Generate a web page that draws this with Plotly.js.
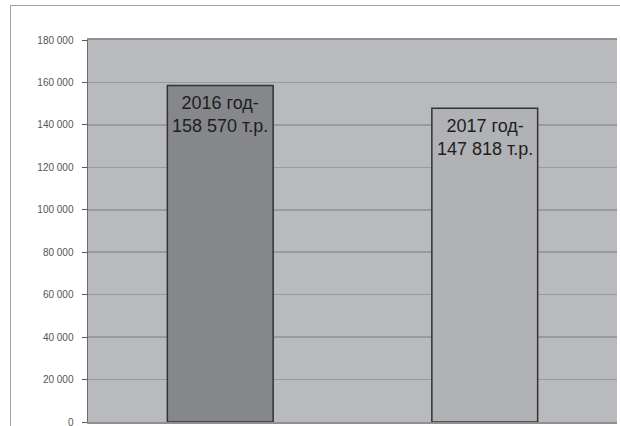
<!DOCTYPE html>
<html><head><meta charset="utf-8">
<script src="https://cdn.plot.ly/plotly-3.0.1.min.js"></script>
<style>
html,body{margin:0;padding:0;background:#fff;}
#wrap{position:relative;width:620px;height:426px;overflow:hidden;}
#frame{position:absolute;left:10px;top:5px;width:700px;height:500px;border:1.5px solid #a0a0a0;box-sizing:border-box;pointer-events:none;}
#chart{position:absolute;left:0;top:0;width:620px;height:426px;}
</style></head>
<body><div id="wrap"><div id="frame"></div><div id="chart"></div></div>
<script>
const categories = ["2016 год", "2017 год"];
const values = [158570, 147818];
const labels = ["2016 год-<br>158 570 т.р.", "2017 год-<br>147 818 т.р."];
const tickVals = [0, 20000, 40000, 60000, 80000, 100000, 120000, 140000, 160000, 180000];
const tickText = ["0", "20 000", "40 000", "60 000", "80 000", "100 000", "120 000", "140 000", "160 000", "180 000"];
const barColors = ["#86878a", "#b1b2b5"];

const trace = {
  type: "bar",
  x: categories,
  y: values,
  marker: {color: barColors, line: {color: "#333333", width: 1.5}},
  hoverinfo: "none"
};

const annotations = categories.map((c, i) => ({
  x: i, y: values[i], xref: "x", yref: "y",
  text: labels[i], showarrow: false,
  yanchor: "top", yshift: -6,
  font: {family: "Arial, Liberation Sans, sans-serif", size: 18, color: "#1e1e1e"},
  align: "center"
}));

const layout = {
  width: 620, height: 426,
  margin: {l: 88, r: 3, t: 40, b: 4, pad: 0},
  paper_bgcolor: "rgba(0,0,0,0)",
  plot_bgcolor: "#b9babd",
  bargap: 0.6,
  showlegend: false,
  xaxis: {type: "category", range: [-0.5, 1.5], showticklabels: false, ticks: "", showgrid: false,
          showline: true, mirror: true, linecolor: "#8f9093", linewidth: 2, zeroline: false},
  yaxis: {range: [0, 180000], tickvals: tickVals, ticktext: tickText,
          ticks: "outside", ticklen: 5, tickcolor: "#555", ticklabelstandoff: 6,
          ticklabeloverflow: "allow",
          showgrid: true, gridcolor: "#999a9d", gridwidth: 1.5, zeroline: false,
          showline: true, linecolor: "#6a6a6a", linewidth: 1.5, mirror: false,
          tickfont: {family: "Arial, Liberation Sans, sans-serif", size: 10, color: "#555"}},
  annotations: annotations
};

Plotly.newPlot("chart", [trace], layout, {displayModeBar: false, staticPlot: true});
</script></body></html>
